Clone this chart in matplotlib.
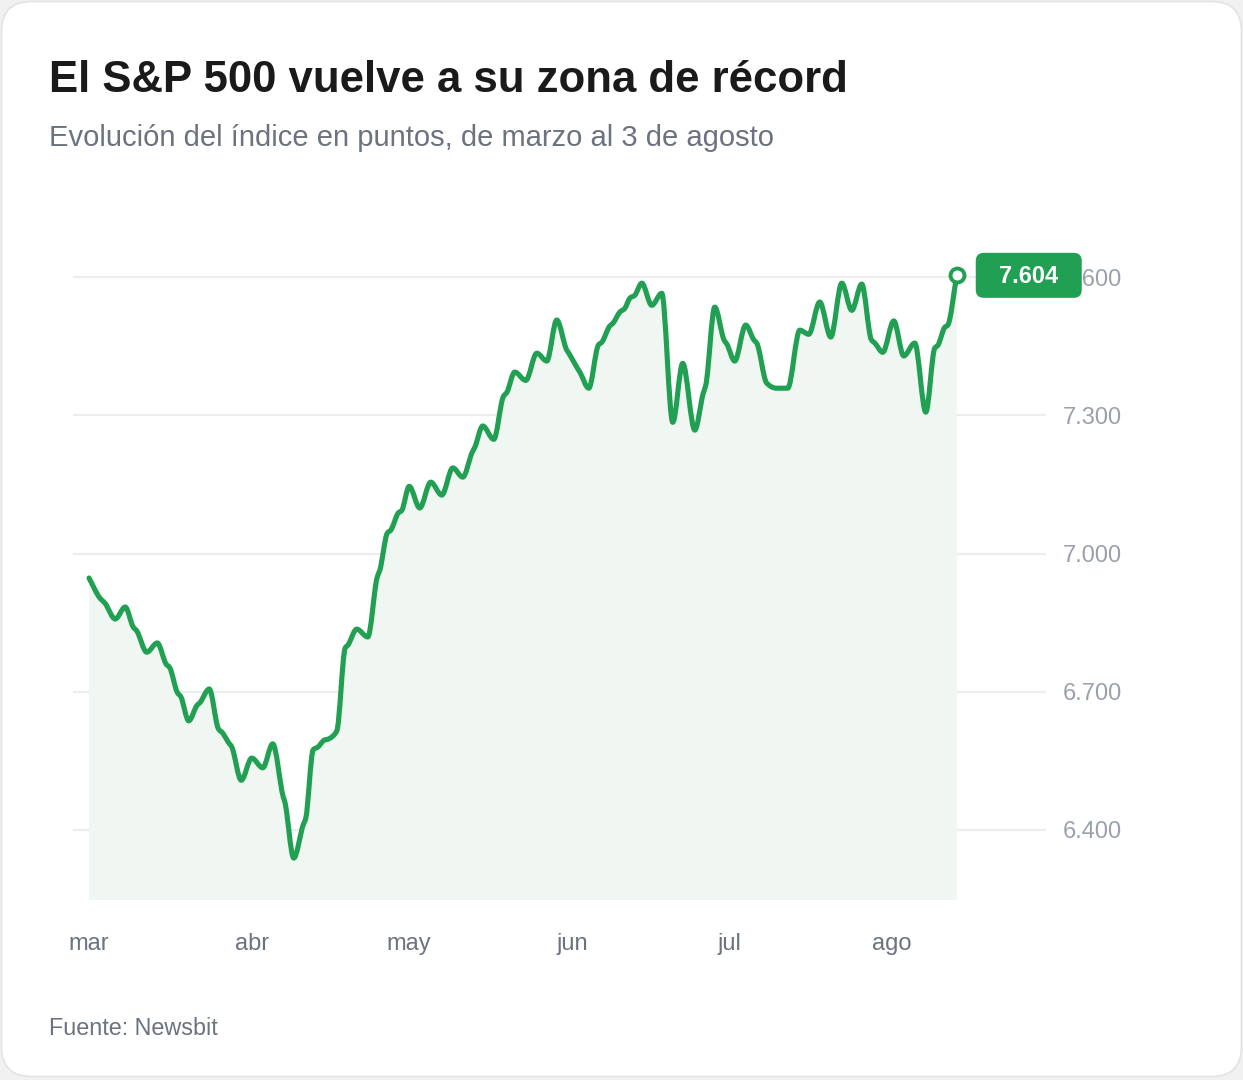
import numpy as np
import matplotlib.pyplot as plt
from matplotlib.patches import FancyBboxPatch, PathPatch
from matplotlib.path import Path

plt.rcParams['font.family'] = ['Liberation Sans', 'DejaVu Sans']

# dias desde el 1 de marzo y valor del indice
dias = [0.0, 2.1, 3.0, 5.0, 6.9, 8.4, 9.1, 11.0, 13.0, 14.7, 15.4, 16.8, 17.5, 19.0, 20.6, 21.1,
        22.9, 24.6, 25.5, 26.5, 27.2, 29.0, 31.0, 33.1, 35.0, 37.0, 37.3, 39.0, 40.8, 41.3, 42.7,
        43.6, 44.8, 45.5, 47.2, 48.8, 49.3, 51.0, 53.1, 54.9, 55.4, 56.8, 57.5, 58.9, 59.6, 61.0,
        63.0, 65.1, 67.2, 69.3, 71.2, 73.0, 73.5, 75.0, 77.1, 78.9, 79.6, 81.1, 83.2, 85.3, 87.2,
        89.1, 91.0, 91.4, 93.0, 93.5, 95.2, 97.0, 97.7, 99.2, 99.8, 101.1, 102.1, 103.0, 104.0,
        105.3, 107.2, 109.1, 111.2, 113.1, 115.4, 117.0, 117.5, 119.2, 121.0, 121.5, 123.0, 125.1,
        126.7, 127.2, 129.1, 131.0, 133.1, 135.4, 137.1, 139.2, 141.3, 143.4, 145.3, 147.2, 149.0,
        149.7, 151.2, 153.3, 155.2, 157.3, 159.4, 161.1, 161.7, 163.0, 163.6, 165.3]
valores = [6947, 6903, 6893, 6858, 6884, 6841, 6832, 6786, 6806, 6760, 6752, 6699, 6689, 6637, 6671, 6676,
           6706, 6621, 6610, 6591, 6580, 6508, 6556, 6535, 6587, 6472, 6461, 6339, 6411, 6426, 6574,
           6580, 6595, 6597, 6615, 6795, 6801, 6836, 6819, 6949, 6964, 7044, 7051, 7088, 7094, 7146,
           7099, 7155, 7127, 7186, 7166, 7220, 7231, 7277, 7248, 7340, 7350, 7394, 7376, 7435, 7418,
           7507, 7442, 7435, 7403, 7394, 7359, 7452, 7459, 7494, 7500, 7524, 7533, 7554, 7561,
           7587, 7539, 7565, 7285, 7413, 7268, 7348, 7366, 7535, 7463, 7455, 7418, 7496,
           7463, 7457, 7370, 7359, 7359, 7485, 7476, 7546, 7470, 7587, 7528, 7585, 7465,
           7457, 7437, 7505, 7429, 7457, 7307, 7446, 7452, 7491, 7496, 7604]

meses = ['mar', 'abr', 'may', 'jun', 'jul', 'ago']
dias_mes = [0, 31, 61, 92, 122, 153]
yticks = [6400, 6700, 7000, 7300, 7600]

titulo = 'El S&P 500 vuelve a su zona de récord'
subtitulo = 'Evolución del índice en puntos, de marzo al 3 de agosto'
fuente = 'Fuente: Newsbit'

verde = '#21a053'
W, H = 1243, 1080
ymin, ymax = 6248, 7659


def curva_monotona(x, y):
    # curva suave tipo "monotone x" como path de Bezier
    x = np.asarray(x, float)
    y = np.asarray(y, float)
    h = np.diff(x)
    s = np.diff(y) / h
    t = np.zeros_like(y)
    for i in range(1, len(x) - 1):
        if s[i - 1] * s[i] <= 0:
            t[i] = 0
        else:
            p = (s[i - 1] * h[i] + s[i] * h[i - 1]) / (h[i - 1] + h[i])
            t[i] = np.sign(s[i - 1]) * min(abs(s[i - 1]), abs(s[i]), 0.5 * abs(p)) * 2
            t[i] = np.sign(s[i]) * min(abs(t[i]), 2 * abs(s[i - 1]), 2 * abs(s[i]), abs(p))
    t[0] = s[0]
    t[-1] = s[-1]
    verts = [(x[0], y[0])]
    codes = [Path.MOVETO]
    for i in range(len(x) - 1):
        d = h[i] / 3
        verts += [(x[i] + d, y[i] + d * t[i]), (x[i + 1] - d, y[i + 1] - d * t[i + 1]), (x[i + 1], y[i + 1])]
        codes += [Path.CURVE4] * 3
    return verts, codes


fig = plt.figure(figsize=(W / 100, H / 100), dpi=100)
fig.patch.set_facecolor('#f1f1f1')

# fondo de la tarjeta
bg = fig.add_axes([0, 0, 1, 1], zorder=-5)
bg.set_xlim(0, W)
bg.set_ylim(H, 0)
bg.axis('off')
bg.add_patch(FancyBboxPatch((1.5, 1.5), W - 3, H - 5, boxstyle='round,pad=0,rounding_size=30',
                            facecolor='white', edgecolor='#e3e3e3', lw=1.2))

ax = fig.add_axes([73 / W, 1 - 900 / H, (1046 - 73) / W, (900 - 250) / H])
ax.set_facecolor('none')
ax.set_xlim(-3.05, 182.3)
ax.set_ylim(ymin, ymax)

for v in yticks:
    ax.axhline(v, color='#ededed', lw=1.6, zorder=0)

verts, codes = curva_monotona(dias, valores)
area_v = verts + [(dias[-1], ymin), (dias[0], ymin), verts[0]]
area_c = codes + [Path.LINETO, Path.LINETO, Path.CLOSEPOLY]
ax.add_patch(PathPatch(Path(area_v, area_c), facecolor='#f0f7f2', edgecolor='none', zorder=1))
ax.add_patch(PathPatch(Path(verts, codes), facecolor='none', edgecolor=verde, lw=3.7,
                       joinstyle='round', capstyle='round', zorder=3))
ax.plot(dias[-1], valores[-1], 'o', ms=10, mfc='white', mec=verde, mew=2.8, zorder=4)

for s in ax.spines.values():
    s.set_visible(False)
ax.yaxis.tick_right()
ax.set_yticks(yticks)
ax.set_yticklabels([f'{v:,}'.replace(',', '.') for v in yticks])
ax.set_xticks(dias_mes)
ax.set_xticklabels(meses)
ax.tick_params(axis='y', length=0, pad=12, labelsize=17, labelcolor='#9aa1ac')
ax.tick_params(axis='x', length=0, pad=24, labelsize=17, labelcolor='#6b7280')

# capa superior en pixeles para textos y etiqueta
fg = fig.add_axes([0, 0, 1, 1], zorder=10)
fg.set_xlim(0, W)
fg.set_ylim(H, 0)
fg.axis('off')

fg.text(49, 92, titulo, fontsize=31.5, fontweight='bold', color='#1a1a1a', va='baseline')
fg.text(49, 146, subtitulo, fontsize=21, color='#6b7280', va='baseline')
fg.text(49, 1035, fuente, fontsize=16.8, color='#6b7280', va='baseline')

px, py = ax.transData.transform((dias[-1], valores[-1]))
py = H - py
fg.add_patch(FancyBboxPatch((px + 19, py - 22.5), 106, 45, boxstyle='round,pad=0,rounding_size=8',
                            facecolor=verde, edgecolor='none'))
fg.text(px + 19 + 53, py + 1, f'{valores[-1]:,}'.replace(',', '.'), fontsize=17, fontweight='bold',
        color='white', ha='center', va='center')

fig.savefig('out.png', dpi=100)
